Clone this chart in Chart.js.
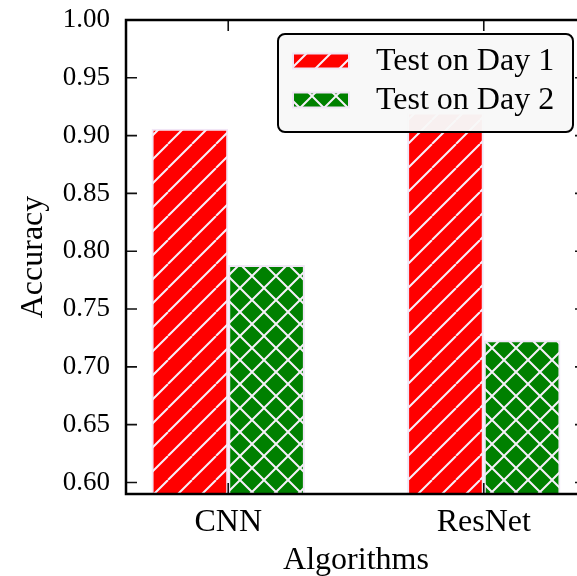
<!DOCTYPE html>
<html>
<head>
<meta charset="utf-8">
<title>Accuracy by algorithm</title>
<script src="https://cdn.jsdelivr.net/npm/chart.js@4.4.1/dist/chart.umd.min.js"></script>
<style>
  html, body { margin: 0; padding: 0; background: #fff; overflow: hidden; }
  #wrap { width: 577px; height: 576px; overflow: hidden; }
  canvas { display: block; }
</style>
</head>
<body>
<div id="wrap"><canvas id="accChart" width="600" height="576"></canvas></div>
<script>
// ── Data ──────────────────────────────────────────────────────────────────────

const categories   = ['CNN', 'ResNet'];
const seriesLabels = ['Test on Day 1', 'Test on Day 2'];
const day1Acc      = [0.906, 0.92];
const day2Acc      = [0.788, 0.723];
const yTicks       = [0.60, 0.65, 0.70, 0.75, 0.80, 0.85, 0.90, 0.95, 1.00];

const Y_MIN = 0.59, Y_MAX = 1.00;
const X_MIN = -0.4, X_MAX = 1.4;

const RED   = '#ff0000';
const GREEN = '#008000';
const EDGE  = '#f1e6f6';
const HATCH = '#f7f0fa';
const HATCH_STEP = 24;
const FONT = "'Liberation Serif', 'Times New Roman', serif";

// ── Hatch fills ───────────────────────────────────────────────────────────────

function hatchPattern(ctx, fill, cross) {
  const tile = document.createElement('canvas');
  tile.width = tile.height = HATCH_STEP;
  const g = tile.getContext('2d');
  g.fillStyle = fill;
  g.fillRect(0, 0, HATCH_STEP, HATCH_STEP);
  g.strokeStyle = HATCH;
  g.lineWidth = 2;
  g.beginPath();
  for (let k = -1; k <= 1; k++) {
    g.moveTo(k * HATCH_STEP, HATCH_STEP);
    g.lineTo((k + 1) * HATCH_STEP, 0);
    if (cross) {
      g.moveTo(k * HATCH_STEP, 0);
      g.lineTo((k + 1) * HATCH_STEP, HATCH_STEP);
    }
  }
  g.stroke();
  return ctx.createPattern(tile, 'repeat');
}

// ── Plugins ───────────────────────────────────────────────────────────────────

// axes box with inward ticks on all four sides
const framePlugin = {
  id: 'frame',
  afterDatasetsDraw(chart) {
    const { ctx, chartArea: a, scales: { x, y } } = chart;
    ctx.save();
    ctx.strokeStyle = '#111';
    ctx.lineWidth = 1.6;
    ctx.beginPath();
    yTicks.forEach(v => {
      const py = y.getPixelForValue(v);
      ctx.moveTo(a.left, py);  ctx.lineTo(a.left + 11, py);
      ctx.moveTo(a.right, py); ctx.lineTo(a.right - 11, py);
    });
    categories.forEach((_, i) => {
      const px = x.getPixelForValue(i);
      ctx.moveTo(px, a.bottom); ctx.lineTo(px, a.bottom - 11);
      ctx.moveTo(px, a.top);    ctx.lineTo(px, a.top + 11);
    });
    ctx.stroke();
    ctx.strokeStyle = '#000';
    ctx.lineWidth = 2.5;
    ctx.strokeRect(a.left, a.top, a.right - a.left, a.bottom - a.top);
    ctx.restore();
  },
};

// framed legend in the upper right corner of the axes
const legendPlugin = {
  id: 'boxLegend',
  afterDraw(chart) {
    const { ctx, chartArea: a } = chart;
    const w = 295, h = 98;
    const left = a.right - 13 - w, top = a.top + 14;
    ctx.save();
    ctx.beginPath();
    ctx.roundRect(left, top, w, h, 7);
    ctx.fillStyle = 'rgba(248,248,248,0.97)';
    ctx.fill();
    ctx.lineWidth = 2;
    ctx.strokeStyle = '#000';
    ctx.stroke();
    chart.data.datasets.forEach((ds, i) => {
      const cy = top + 27 + i * 39;
      ctx.fillStyle = EDGE;
      ctx.fillRect(left + 14, cy - 8.5, 58, 17);
      ctx.fillStyle = ds.backgroundColor;
      ctx.fillRect(left + 16, cy - 6.5, 54, 13);
      ctx.fillStyle = '#000';
      ctx.font = `32px ${FONT}`;
      ctx.textBaseline = 'middle';
      ctx.fillText(ds.label, left + 98, cy + 1);
    });
    ctx.restore();
  },
};

// ── Chart ─────────────────────────────────────────────────────────────────────

const ctx = document.getElementById('accChart').getContext('2d');
const fills = [hatchPattern(ctx, RED, false), hatchPattern(ctx, GREEN, true)];
const series = [day1Acc, day2Acc];

Chart.defaults.font.family = FONT;
Chart.defaults.color = '#000';

new Chart(ctx, {
  type: 'bar',
  data: {
    datasets: series.map((vals, s) => ({
      label: seriesLabels[s],
      data: categories.map((_, i) => ({ x: i, y: vals[i] })),
      backgroundColor: fills[s],
      borderColor: EDGE,
      borderWidth: 2,
      categoryPercentage: 0.6,
      barPercentage: 1.0,
    })),
  },
  options: {
    responsive: false,
    animation: false,
    layout: { padding: { top: 20, right: 14, left: 0, bottom: 0 } },
    plugins: {
      legend: { display: false },
      tooltip: { enabled: false },
    },
    scales: {
      x: {
        type: 'linear',
        min: X_MIN,
        max: X_MAX,
        offset: false,
        bounds: 'data',
        grace: 0,
        grid: { display: false, drawTicks: false, offset: false },
        border: { display: false },
        afterDataLimits: s => { s.min = X_MIN; s.max = X_MAX; },
        afterBuildTicks: s => { s.ticks = categories.map((_, i) => ({ value: i })); },
        afterFit: s => { s.height = 82; s.paddingLeft = 0; s.paddingRight = 0; },
        ticks: {
          callback: v => categories[v],
          font: { size: 32 },
          padding: 9,
          maxRotation: 0,
          autoSkip: false,
        },
        title: {
          display: true,
          text: 'Algorithms',
          font: { size: 32, lineHeight: 1.2 },
          padding: { top: 0, bottom: -4 },
        },
      },
      y: {
        min: Y_MIN,
        max: Y_MAX,
        grid: { display: false, drawTicks: false },
        border: { display: false },
        afterBuildTicks: s => { s.ticks = yTicks.map(v => ({ value: v })); },
        afterFit: s => { s.width = 126; s.paddingTop = 0; s.paddingBottom = 0; },
        ticks: {
          callback: v => v.toFixed(2),
          font: { size: 27 },
          padding: 16,
        },
        title: {
          display: true,
          text: 'Accuracy',
          font: { size: 32, lineHeight: 1.2 },
          padding: { top: 14, bottom: 0 },
        },
      },
    },
  },
  plugins: [framePlugin, legendPlugin],
});
</script>
</body>
</html>
